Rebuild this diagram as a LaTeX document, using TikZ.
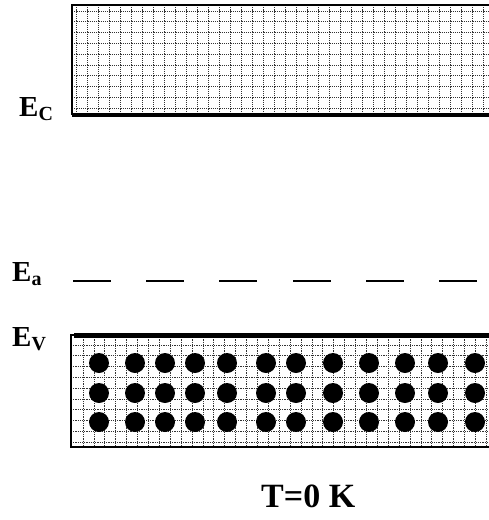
\documentclass[tikz,border=0pt]{standalone}
\usepackage{fontspec}
\setmainfont{Liberation Serif}
\begin{document}
\begin{tikzpicture}[x=1pt,y=-1pt,
  gridline/.style={line width=0.8pt,black!80,dash pattern=on 1.1pt off 1.1pt},
  edge/.style={line width=1.4pt,black},
  bandedge/.style={line width=4.5pt,black},
  level/.style={line width=1.5pt,black},
  carrier/.style={fill=black},
  lbl/.style={anchor=base west,inner sep=0pt,font=\bfseries\fontsize{29}{29}\selectfont}]
\newcommand{\subtxt}[1]{\raisebox{-4pt}{\fontsize{20}{20}\selectfont #1}}
\useasboundingbox (0,0) rectangle (489,520);

% conduction band
\begin{scope}
  \clip (72,5) rectangle (489,115);
  \foreach \i in {0,...,38} \draw[gridline] (76.5+11*\i,5) -- (76.5+11*\i,115);
  \foreach \j in {0,...,9} \draw[gridline] (72,11+10.8*\j) -- (489,11+10.8*\j);
\end{scope}
\draw[edge] (489,5) -- (72,5) -- (72,115);
\draw[bandedge] (72,115) -- (489,115);

% valence band
\begin{scope}
  \clip (71,335) rectangle (489,447);
  \foreach \i in {0,...,38} \draw[gridline] (83+10.9*\i,335) -- (83+10.9*\i,447);
  \foreach \j in {0,...,9} \draw[gridline] (71,345+10.8*\j) -- (489,345+10.8*\j);
\end{scope}
\draw[edge] (74,335) -- (71,335) -- (71,447) -- (489,447);
\draw[bandedge] (74,335.5) -- (489,335.5);

% filled states in the valence band
\foreach \x in {99,135,165,195,227,266,296,333,369,405,438,475}
  \foreach \y in {363,393,422}
    \fill[carrier] (\x,\y) circle (10pt);

% acceptor level
\foreach \x/\n in {73/1,146/2,219/3,293/4,366/5,439/6} {
  \coordinate (a\n s) at (\x,281);
  \coordinate (a\n e) at (\x+37.5,281);
  \draw[level] (a\n s) -- (a\n e);
}

% labels
\node[lbl] (ec) at (19,116) {E\subtxt{C}};
\node[lbl] (ea) at (12,281) {E\subtxt{a}};
\node[lbl] (ev) at (12,346) {E\subtxt{V}};
\node[lbl,font=\bfseries\fontsize{34}{34}\selectfont] (temp) at (261,507) {T=0 K};
\end{tikzpicture}
\end{document}
